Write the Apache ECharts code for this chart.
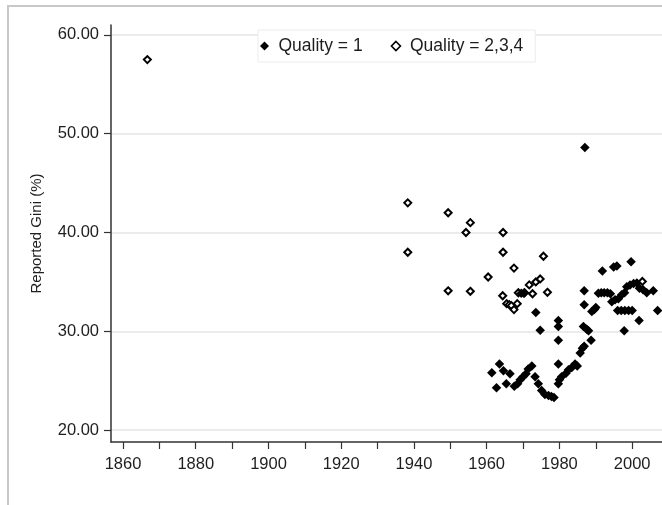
<!DOCTYPE html>
<html>
<head>
<meta charset="utf-8">
<script src="https://cdn.jsdelivr.net/npm/echarts@6.0.0/dist/echarts.min.js"></script>
<style>
  html, body { margin: 0; padding: 0; background: #fff; }
  #chart { width: 662px; height: 505px; }
</style>
</head>
<body>
<div id="chart"></div>
<script>
// Quality = 1 (filled diamonds)
var q1Years = [1961.4, 1962.7, 1963.5, 1964.6, 1965.4, 1966.4, 1967.6, 1968.5, 1969.2, 1970.0,
  1970.8, 1971.4, 1972.4, 1973.3, 1974.2, 1975.1, 1976.0, 1977.0, 1977.8, 1978.5,
  1969.5, 1970.2, 1973.5, 1974.7,
  1979.7, 1979.7, 1979.7, 1979.7, 1979.7, 1980.0, 1980.6, 1981.8, 1982.5, 1983.4, 1984.3, 1984.9,
  1985.7, 1986.3, 1986.8, 1986.6, 1987.5, 1988.0, 1988.7, 1986.8, 1986.8, 1987.0,
  1988.9, 1989.6, 1990.0, 1990.7, 1991.5, 1992.3, 1993.2, 1994.0,
  1991.8, 1994.9, 1995.8, 1999.7,
  1994.4, 1995.3, 1996.2, 1997.1, 1997.9, 1998.5, 1999.4, 2000.4, 2001.3,
  1996.0, 1997.0, 1998.0, 1999.0, 2000.0, 2001.9, 1997.8,
  2002.0, 2003.0, 2004.0, 2005.8, 2007.0];
var q1Gini = [25.8, 24.3, 26.7, 26.0, 24.7, 25.7, 24.45, 24.7, 25.1, 25.4,
  25.7, 26.2, 26.5, 25.4, 24.7, 24.0, 23.6, 23.5, 23.4, 23.3,
  33.85, 33.85, 31.9, 30.1,
  31.1, 30.5, 29.1, 26.7, 24.7, 25.1, 25.4, 25.75, 26.1, 26.35, 26.7, 26.5,
  27.8, 28.3, 28.5, 30.5, 30.2, 30.05, 29.1, 32.7, 34.1, 48.6,
  32.0, 32.2, 32.4, 33.85, 33.9, 33.9, 33.9, 33.8,
  36.1, 36.5, 36.6, 37.05,
  33.0, 33.2, 33.3, 33.7, 33.9, 34.5, 34.7, 34.85, 34.9,
  32.1, 32.1, 32.1, 32.1, 32.1, 31.1, 30.05,
  34.35, 34.2, 33.9, 34.1, 32.1];

// Quality = 2,3,4 (hollow diamonds)
var q234Years = [1866.7, 1938.3, 1938.3, 1949.4, 1949.4, 1954.3, 1955.5, 1955.5, 1960.4,
  1964.5, 1964.5, 1964.4, 1965.5, 1966.2, 1966.8, 1967.5, 1967.5, 1968.4, 1968.7,
  1970.4, 1971.7, 1972.6, 1973.5, 1974.7, 1975.6, 1976.7, 2002.8];
var q234Gini = [57.5, 43.0, 38.0, 42.0, 34.1, 40.0, 41.0, 34.05, 35.5,
  40.0, 38.0, 33.6, 32.8, 32.7, 32.6, 32.2, 36.4, 32.8, 33.9,
  33.9, 34.7, 33.8, 35.0, 35.3, 37.6, 33.95, 35.05];

var yTicks = [20, 30, 40, 50, 60];
var xTicks = [1860, 1870, 1880, 1890, 1900, 1910, 1920, 1930, 1940, 1950, 1960, 1970, 1980, 1990, 2000];
var xLabels = [1860, 1880, 1900, 1920, 1940, 1960, 1980, 2000];

function zip(xs, ys) {
  return xs.map(function (x, i) { return [x, ys[i]]; });
}

var font = 'Liberation Sans, Arial, sans-serif';
var diamond = 'path://M5,0 L10,5 L5,10 L0,5 Z';

var chart = echarts.init(document.getElementById('chart'));
chart.setOption({
  animation: false,
  backgroundColor: '#fff',
  textStyle: { fontFamily: font, color: '#1e1e1e' },
  graphic: [{
    type: 'rect',
    shape: { x: 8, y: 6, width: 720, height: 620 },
    style: { fill: 'none', stroke: '#c8c8c8', lineWidth: 2 },
    z: -10
  }],
  grid: { left: 111, right: 0, top: 25, bottom: 63, outerBoundsMode: 'none' },
  legend: {
    left: 258, top: 30,
    padding: [7, 12, 7, 2],
    itemGap: 28,
    itemWidth: 18, itemHeight: 9,
    backgroundColor: '#fff',
    borderColor: '#ececec', borderWidth: 1,
    textStyle: { fontSize: 17.5, fontFamily: font, color: '#1e1e1e' },
    data: [
      { name: 'Quality = 1', icon: diamond },
      { name: 'Quality = 2,3,4', icon: diamond, itemStyle: { borderWidth: 1.6 } }
    ]
  },
  xAxis: {
    type: 'value', min: 1856.7, max: 2008.2,
    axisLine: { onZero: false, lineStyle: { color: '#333', width: 1.5 } },
    axisTick: { show: true, length: 7, customValues: xTicks, lineStyle: { color: '#333', width: 1.2 } },
    axisLabel: {
      customValues: xLabels, fontSize: 16.5, margin: 14, color: '#1e1e1e', fontFamily: font,
      formatter: function (v) { return String(v); }
    },
    splitLine: { show: false }
  },
  yAxis: {
    type: 'value', min: 18.8, max: 61,
    name: 'Reported Gini (%)', nameLocation: 'middle', nameGap: 67, nameRotate: 90,
    nameTextStyle: { fontSize: 15, color: '#1e1e1e', fontFamily: font },
    axisLine: { show: true, lineStyle: { color: '#333', width: 1.5 } },
    axisTick: { show: true, length: 7, customValues: yTicks, lineStyle: { color: '#333', width: 1.2 } },
    axisLabel: {
      customValues: yTicks, fontSize: 16.5, margin: 12, color: '#1e1e1e', fontFamily: font,
      formatter: function (v) { return v.toFixed(2); }
    },
    splitLine: { show: true, lineStyle: { color: '#e4e4e4', width: 1.5 } }
  },
  series: [{
    name: 'Quality = 1',
    type: 'scatter',
    symbol: 'diamond',
    symbolSize: 9.5,
    itemStyle: { color: '#000', opacity: 1 },
    z: 3,
    data: zip(q1Years, q1Gini)
  }, {
    name: 'Quality = 2,3,4',
    type: 'scatter',
    symbol: 'diamond',
    symbolSize: 7,
    itemStyle: { color: '#fff', borderColor: '#000', borderWidth: 2, opacity: 1 },
    z: 2,
    data: zip(q234Years, q234Gini)
  }]
});
</script>
</body>
</html>
